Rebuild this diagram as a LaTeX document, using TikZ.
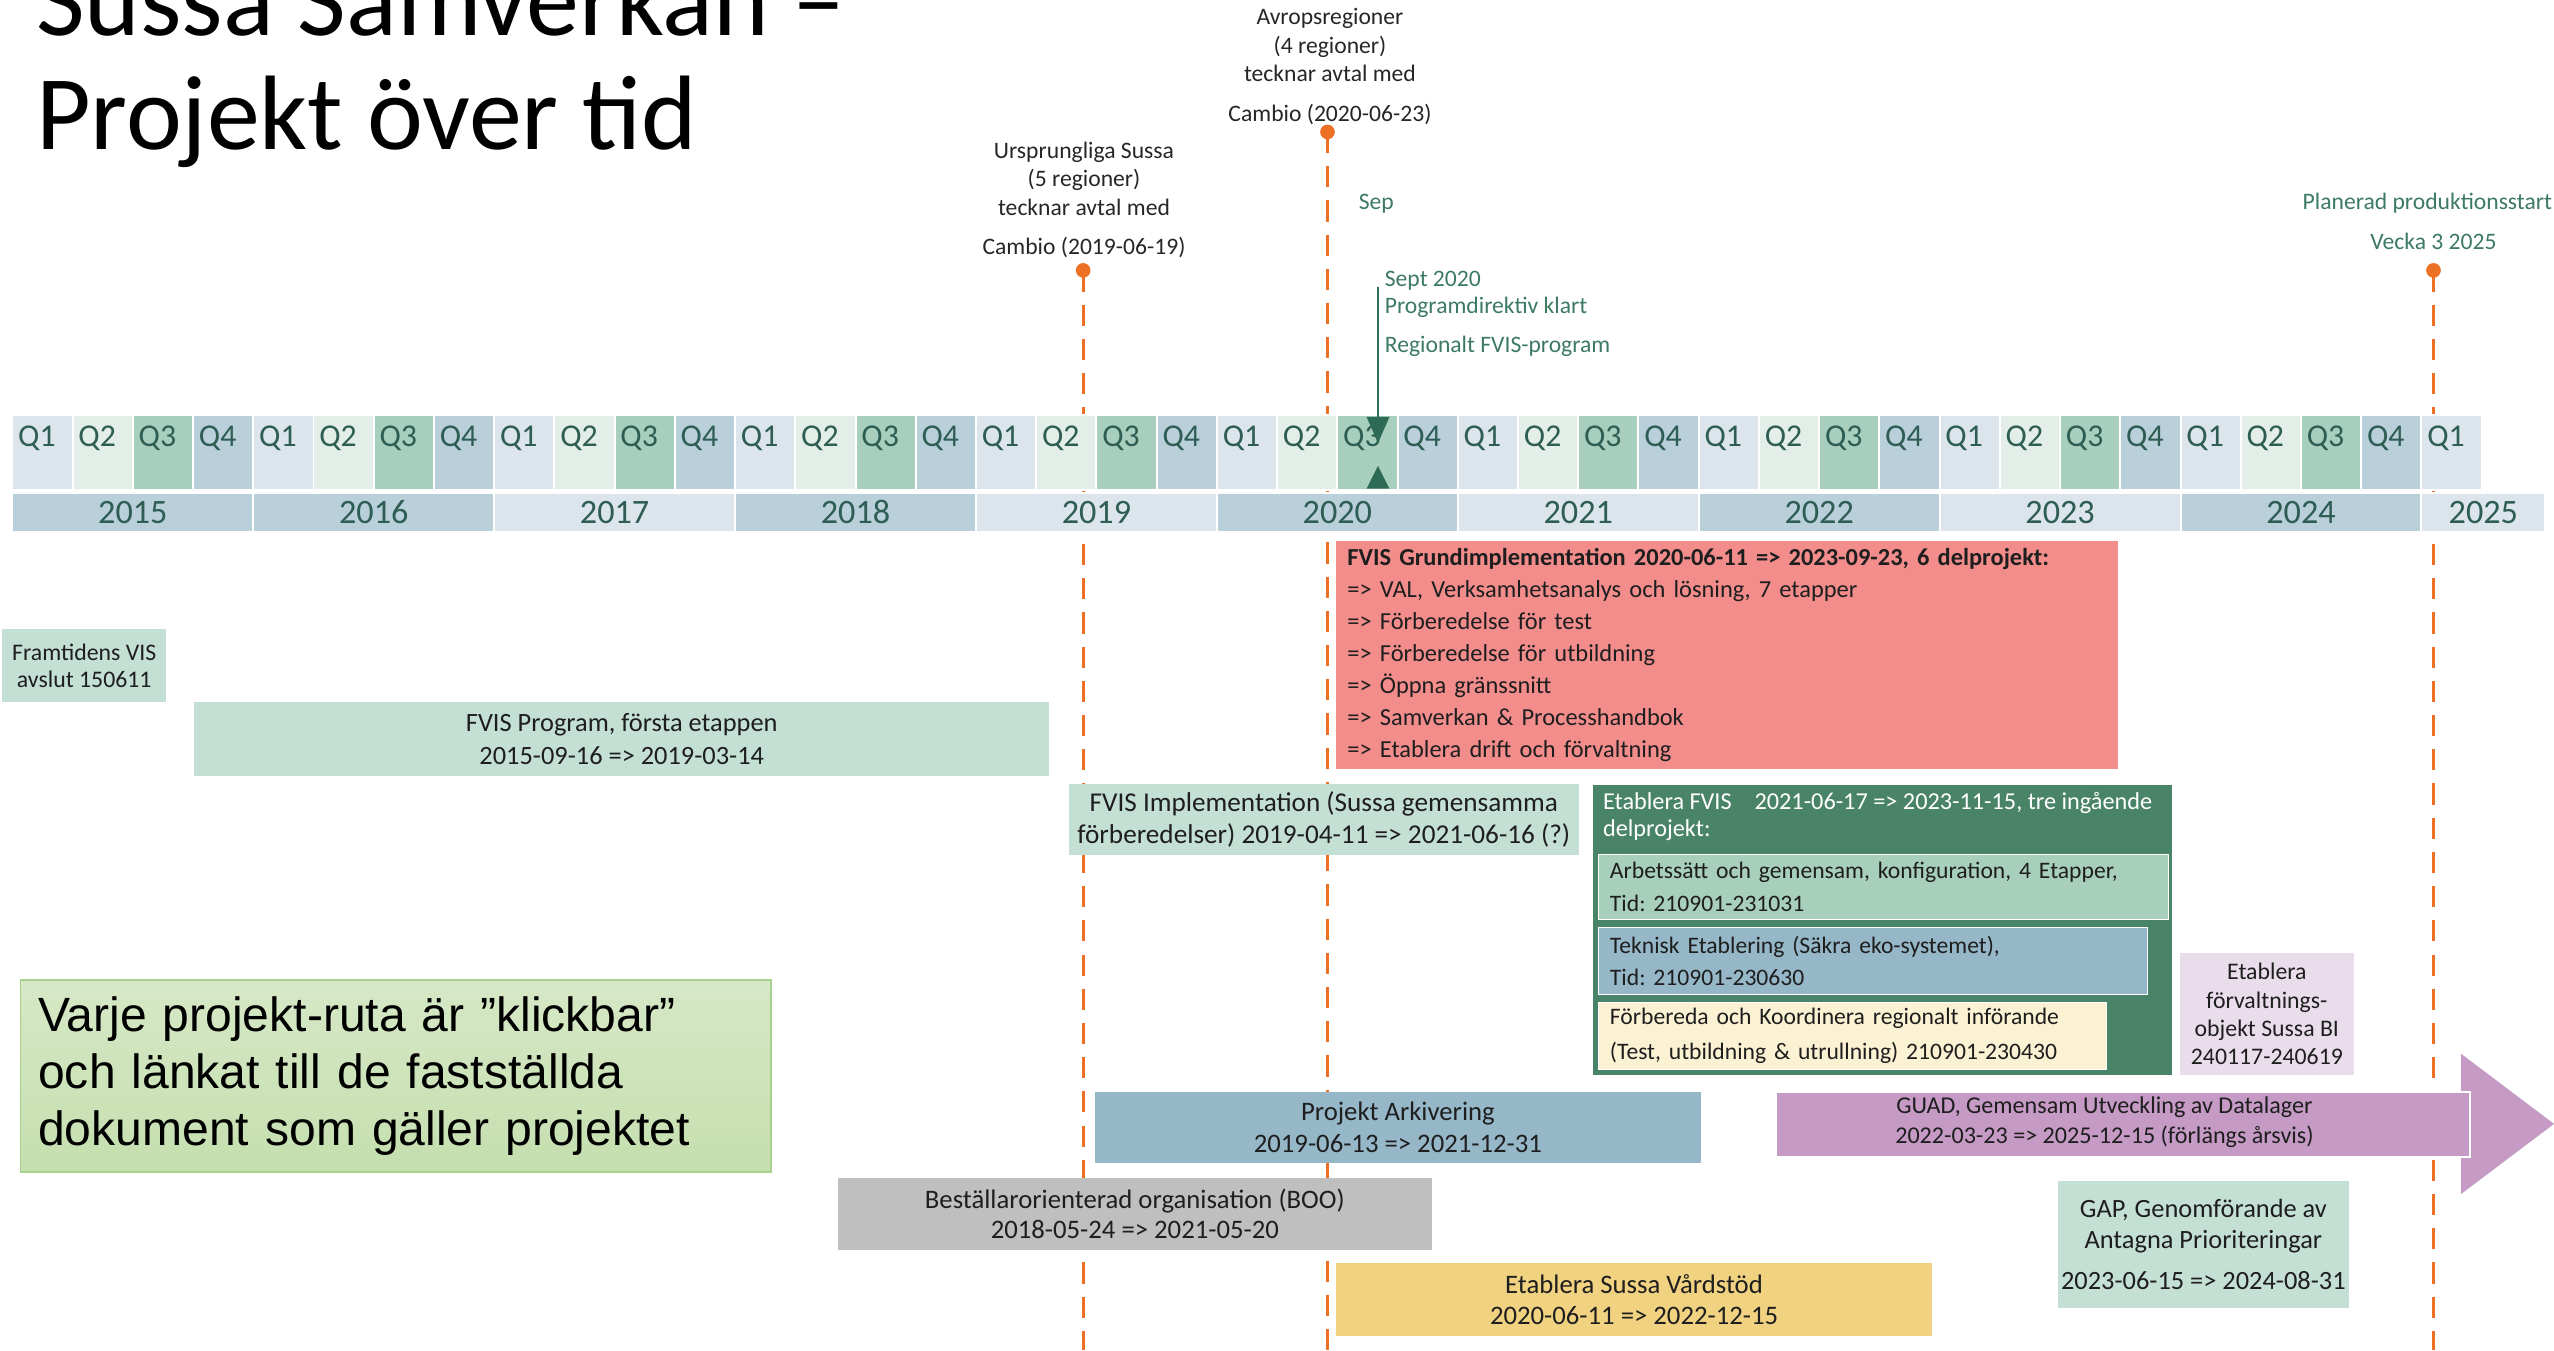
\documentclass[tikz,border=0pt]{standalone}
\usepackage{fontspec}
\setmainfont{Carlito}
\newfontfamily\arialf{Liberation Sans}
\newcommand\fsz[2]{\fontsize{#1}{#2}\selectfont}
\frenchspacing
\definecolor{qA}{HTML}{DBE5EB}
\definecolor{qB}{HTML}{E2EEE7}
\definecolor{qC}{HTML}{A8CFBD}
\definecolor{qD}{HTML}{B9CFDA}
\definecolor{tl}{HTML}{2E5D53}
\definecolor{ora}{HTML}{EC7124}
\definecolor{mgreen}{HTML}{3D7A62}
\definecolor{dgreen}{HTML}{2E6B57}
\definecolor{lgreen}{HTML}{C4DFD3}
\definecolor{salmon}{HTML}{F28D8C}
\definecolor{egreen}{HTML}{4A8468}
\definecolor{subA}{HTML}{A7CFBC}
\definecolor{subB}{HTML}{95B7C8}
\definecolor{subC}{HTML}{FBF1D3}
\definecolor{lav}{HTML}{E9DDEB}
\definecolor{arkiv}{HTML}{96B7C8}
\definecolor{guadc}{HTML}{C59AC5}
\definecolor{booc}{HTML}{BFBFBF}
\definecolor{vard}{HTML}{F0D281}
\definecolor{noteT}{HTML}{D6E8C6}
\definecolor{noteB}{HTML}{C5DFAF}
\definecolor{noteD}{HTML}{A8D18D}
\definecolor{txt}{HTML}{1E1E1E}
\definecolor{ltxt}{HTML}{262626}
\begin{document}
\begin{tikzpicture}[x=1pt,y=-1pt,
  qcell/.style={draw=white,line width=1.2pt,anchor=north west,inner sep=0pt,minimum width=36.97pt,minimum height=46pt},
  ycell/.style={draw=white,line width=1.2pt,anchor=north west,inner sep=0pt,minimum height=24pt,text=tl,font=\fsz{21}{24}},
  qtxt/.style={anchor=west,inner sep=0pt,text=tl,font=\fsz{19.5}{22}},
  lbl/.style={inner sep=0pt,align=center,text=ltxt,font=\fsz{14.5}{17.5}},
  glbl/.style={inner sep=0pt,text=mgreen,font=\fsz{14.5}{17}},
  mdot/.style={circle,fill=ora,inner sep=0pt,minimum size=9pt},
  odash/.style={draw=ora,line width=1.8pt,dash pattern=on 13pt off 8pt},
  pbox/.style={anchor=north west,inner sep=0pt,align=center,text=txt},
  subbox/.style={anchor=north west,draw=white,line width=0.8pt,inner xsep=7pt,inner ysep=0pt,align=left,text=txt,font=\fsz{14.5}{20}},
]
\useasboundingbox (0,0) rectangle (1568,829);

% title
\node[anchor=base west,inner sep=0pt,font=\fsz{65}{70}] (t1) at (22,22) {Sussa Samverkan –};
\node[anchor=base west,inner sep=0pt,font=\fsz{65}{70}] (t2) at (22,92) {Projekt över tid};

% milestone lines (behind everything)
\node[mdot] (d1) at (665,166) {};
\node[mdot] (d2) at (815,81) {};
\node[mdot] (d3) at (1494,166) {};
\coordinate (d1e) at (665,829);
\coordinate (d2e) at (815,829);
\coordinate (d3e) at (1494,829);
\draw[odash] (d1.center) -- (d1e);
\draw[odash] (d2.center) -- (d2e);
\draw[odash] (d3.center) -- (d3e);

% quarter row
\foreach \i in {0,...,9}{
  \foreach \j/\col/\q in {0/qA/1,1/qB/2,2/qC/3,3/qD/4}{
    \node[qcell,fill=\col] (q\i-\j) at ({7+147.9*\i+36.97*\j},254) {};
    \node[qtxt] (qt\i-\j) at ({7+147.9*\i+36.97*\j+4},269) {Q\q};
  }
}
\node[qcell,fill=qA] (q10-0) at (1486,254) {};
\node[qtxt] (qt10-0) at (1490,269) {Q1};

% year row
\foreach \i/\yr/\col in {0/2015/qD,1/2016/qD,2/2017/qA,3/2018/qD,4/2019/qA,5/2020/qD,6/2021/qA,7/2022/qD,8/2023/qA,9/2024/qD}{
  \node[ycell,fill=\col,minimum width=147.9pt] (y\yr) at ({7+147.9*\i},302) {\yr};
}
\node[ycell,fill=qA,minimum width=76pt] (y2025) at (1486,302) {2025};

% green milestone
\coordinate (gtop) at (846,176);
\coordinate (gbot) at (846,258);
\draw[dgreen,line width=1pt] (gtop) -- (gbot);
\fill[dgreen] (839,256) -- (853,256) -- (846,272) -- cycle;
\fill[dgreen] (839,300) -- (853,300) -- (846,286) -- cycle;

% milestone labels
\node[lbl,anchor=south] (ursp) at (665.5,158.5) {Ursprungliga Sussa\\(5 regioner)\\tecknar avtal med\\[6.5pt]Cambio (2019-06-19)};
\node[lbl,anchor=south] (avrop) at (816.5,76.5) {Avropsregioner\\(4 regioner)\\tecknar avtal med\\[6.5pt]Cambio (2020-06-23)};
\node[glbl,anchor=west] (sep) at (834,125) {Sep};
\node[glbl,anchor=north west,align=left] (sept) at (850,166) {Sept 2020\\Programdirektiv klart\\[7pt]Regionalt FVIS-program};
\node[glbl,anchor=east] (plan) at (1567,125) {Planerad produktionsstart};
\node[glbl] (vecka) at (1494,148) {Vecka 3 2025};

% project boxes
\node[pbox,fill=lgreen,minimum width=101pt,minimum height=45pt,font=\fsz{14.6}{17}] (framt) at (1,386) {Framtidens VIS\\avslut 150611};
\node[pbox,fill=lgreen,minimum width=525pt,minimum height=45pt,font=\fsz{16.2}{20}] (fvisprog) at (119,431) {FVIS Program, första etappen\\2015-09-16 => 2019-03-14};
\node[pbox,fill=salmon,minimum height=140pt,text width=466pt,inner xsep=7pt,align=left,font=\fsz{15}{19.7}] (grund) at (820,332) {\textbf{FVIS Grundimplementation 2020-06-11 => 2023-09-23, 6 delprojekt:}\\=> VAL, Verksamhetsanalys och lösning, 7 etapper\\=> Förberedelse för test\\=> Förberedelse för utbildning\\=> Öppna gränssnitt\\=> Samverkan \& Processhandbok\\=> Etablera drift och förvaltning};
\node[pbox,fill=lgreen,minimum width=313pt,minimum height=44pt,font=\fsz{16.7}{20}] (fvisimpl) at (656,481) {FVIS Implementation (Sussa gemensamma\\förberedelser) 2019-04-11 => 2021-06-16 (?)};

\node[pbox,fill=egreen,minimum width=355pt,minimum height=178pt] (etab) at (978,482) {};
\node[anchor=north west,inner sep=0pt,align=left,text=white,font=\fsz{14.9}{17}] (etabh) at (984,486) {Etablera FVIS\hspace{14pt}2021-06-17 => 2023-11-15, tre ingående\\delprojekt:};
\node[subbox,fill=subA,minimum height=40pt,text width=336pt] (suba) at (981,524) {Arbetssätt och gemensam, konfiguration, 4 Etapper,\\Tid: 210901-231031};
\node[subbox,fill=subB,minimum height=41pt,text width=323pt] (subb) at (981,569) {Teknisk Etablering (Säkra eko-systemet),\\Tid: 210901-230630};
\node[subbox,fill=subC,minimum height=41pt,text width=298pt,font=\fsz{14.5}{21}] (subc) at (981,615) {Förbereda och Koordinera regionalt införande\\(Test, utbildning \& utrullning) 210901-230430};

\node[pbox,fill=lav,minimum width=107pt,minimum height=75pt,font=\fsz{14.6}{17.4}] (bi) at (1338,585) {Etablera\\förvaltnings-\\objekt Sussa BI\\240117-240619};

\node[pbox,fill=arkiv,minimum width=372pt,minimum height=44pt,font=\fsz{16.4}{20}] (arkiv) at (672,670) {Projekt Arkivering\\2019-06-13 => 2021-12-31};

\fill[guadc] (1511,647) -- (1568,690) -- (1511,733) -- cycle;
\node[anchor=north west,fill=guadc,draw=white,line width=1pt,minimum width=426pt,minimum height=40pt,inner sep=0pt] (guad) at (1090,670) {};
\node[inner sep=0pt,align=center,text=txt,font=\fsz{14.8}{18}] (guadt) at (1292,689) {GUAD, Gemensam Utveckling av Datalager\\2022-03-23 => 2025-12-15 (förlängs årsvis)};

\node[pbox,fill=booc,minimum width=365pt,minimum height=44pt,font=\fsz{16.4}{19}] (boo) at (514,723) {Beställarorienterad organisation (BOO)\\2018-05-24 => 2021-05-20};
\node[pbox,fill=vard,minimum width=366pt,minimum height=45pt,font=\fsz{16.4}{19}] (vard) at (820,775) {Etablera Sussa Vårdstöd\\2020-06-11 => 2022-12-15};
\node[pbox,fill=lgreen,minimum width=179pt,minimum height=78pt,font=\fsz{16.2}{19}] (gap) at (1263,725) {GAP, Genomförande av\\Antagna Prioriteringar\\[6pt]2023-06-15 => 2024-08-31};

% note
\node[anchor=north west,top color=noteT,bottom color=noteB,draw=noteD,line width=1pt,minimum width=461pt,minimum height=118pt,text width=439pt,inner xsep=11pt,inner ysep=0pt,align=left,font=\arialf\fsz{29.5}{35}] (note) at (12,601) {Varje projekt-ruta är ”klickbar”\\och länkat till de fastställda\\dokument som gäller projektet};
\end{tikzpicture}
\end{document}
